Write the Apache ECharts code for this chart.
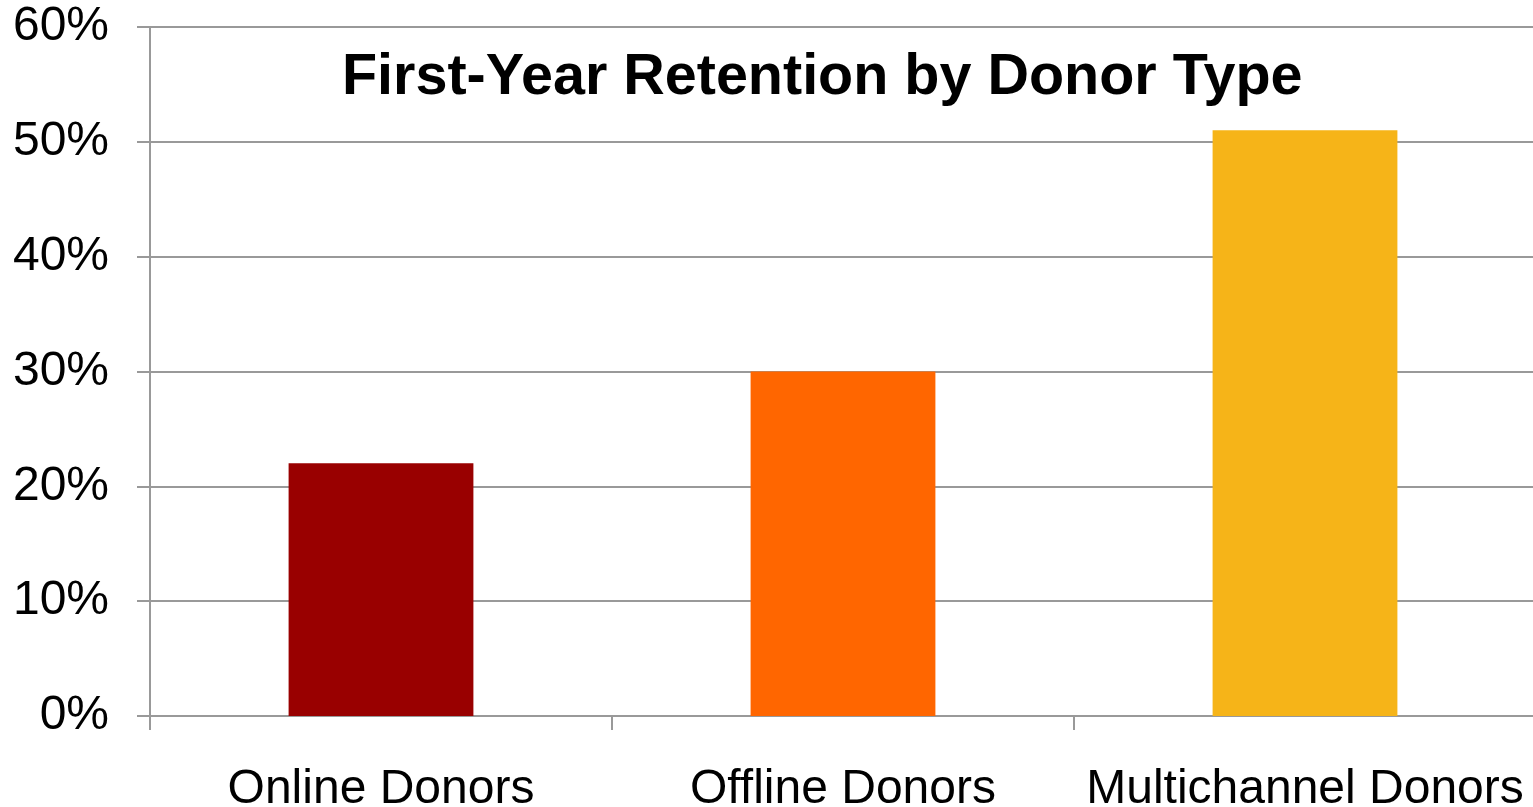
<!DOCTYPE html>
<html>
<head>
<meta charset="utf-8">
<script src="https://cdn.jsdelivr.net/npm/echarts@6/dist/echarts.min.js"></script>
<style>
  html, body { margin: 0; padding: 0; background: #fff; }
  #chart { width: 1533px; height: 807px; }
</style>
</head>
<body>
<div id="chart"></div>
<script>
var categories = ['Online Donors', 'Offline Donors', 'Multichannel Donors'];
var retention = [0.22, 0.30, 0.51];
var barColors = ['#990000', '#FF6600', '#F6B418'];

var chart = echarts.init(document.getElementById('chart'));

var option = {
  backgroundColor: '#fff',
  animation: false,
  title: {
    text: 'First-Year Retention by Donor Type',
    left: 337,
    top: 44,
    textStyle: {
      fontFamily: 'Liberation Sans',
      fontWeight: 'bold',
      fontSize: 57.5,
      color: '#000'
    }
  },
  grid: {
    left: 150,
    right: -3,
    top: 27,
    bottom: 91,
    containLabel: false,
    outerBoundsMode: 'none'
  },
  xAxis: {
    type: 'category',
    data: categories,
    boundaryGap: true,
    axisLine: { lineStyle: { color: '#999', width: 2 } },
    axisTick: { show: true, interval: 0, length: 14, lineStyle: { color: '#999', width: 2 } },
    axisLabel: {
      interval: 0,
      margin: 50,
      fontFamily: 'Liberation Sans',
      fontSize: 48,
      color: '#000'
    }
  },
  yAxis: {
    type: 'value',
    min: 0,
    max: 0.6,
    interval: 0.1,
    axisLine: { show: true, lineStyle: { color: '#999', width: 2 } },
    axisTick: { show: true, length: 13, lineStyle: { color: '#999', width: 2 } },
    splitLine: { show: true, lineStyle: { color: '#999', width: 2 } },
    axisLabel: {
      margin: 41,
      fontFamily: 'Liberation Sans',
      fontSize: 48,
      color: '#000',
      formatter: function (v) { return Math.round(v * 100) + '%'; }
    }
  },
  series: [{
    type: 'bar',
    barWidth: '40%',
    data: retention.map(function (v, i) {
      return { value: v, itemStyle: { color: barColors[i] } };
    })
  }]
};

chart.setOption(option);
</script>
</body>
</html>
